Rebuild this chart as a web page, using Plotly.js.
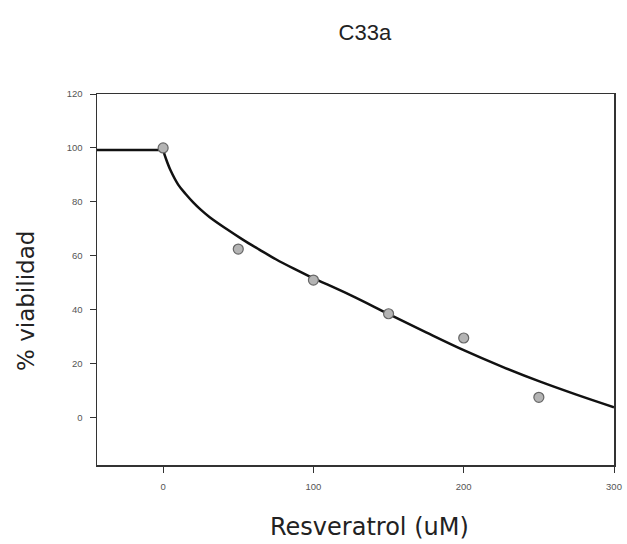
<!DOCTYPE html>
<html>
<head>
<meta charset="utf-8">
<script src="https://cdn.plot.ly/plotly-3.0.1.min.js"></script>
<style>html,body{margin:0;padding:0;background:#fff;}#chart{width:627px;height:544px;}</style>
</head>
<body>
<div id="chart"></div>
<script>
// Observed data points
var doseX = [0, 50, 100, 150, 200, 250];
var viabilityY = [100, 62.5, 51, 38.5, 29.5, 7.5];

// Fitted curve
var plateauX = [-44, 0];
var plateauY = [99.2, 99.2];
var fitX = [0, 2, 5, 10, 15, 20, 25, 31, 42, 53, 64, 75, 87, 98, 125, 150, 175, 200, 225, 250, 275, 300];
var fitY = [99.2, 95.8, 91.6, 86.4, 82.9, 79.8, 77.1, 74.3, 70.0, 66.0, 62.3, 58.7, 55.2, 52.2, 45.3, 38.4, 31.6, 25, 19, 13.5, 8.5, 3.8];

var xTicks = [0, 100, 200, 300];
var yTicks = [0, 20, 40, 60, 80, 100, 120];

var titleText = 'C33a';
var xTitleText = 'Resveratrol (uM)';
var yTitleText = '% viabilidad';

var traces = [
  {x: plateauX, y: plateauY, mode: 'lines', line: {color: '#111', width: 2.5}, hoverinfo: 'skip'},
  {x: fitX, y: fitY, mode: 'lines', line: {color: '#111', width: 2.5, shape: 'spline', smoothing: 1, simplify: false}, hoverinfo: 'skip'},
  {x: doseX, y: viabilityY, mode: 'markers', marker: {size: 10, color: '#b4b4b4', line: {color: '#666', width: 1.2}}}
];

var layout = {
  width: 627, height: 544,
  margin: {l: 97, r: 13, t: 94, b: 79},
  paper_bgcolor: '#fff', plot_bgcolor: '#fff',
  showlegend: false,
  font: {family: 'Liberation Sans, Arial, sans-serif', color: '#222'},
  title: {text: titleText, font: {size: 22, color: '#222'}, x: 0.582, xanchor: 'center', y: 0.94, yanchor: 'middle'},
  xaxis: {
    range: [-44, 300], tickvals: xTicks, ticktext: xTicks.map(String),
    showgrid: false, zeroline: false, showline: true, mirror: true,
    linecolor: '#333', linewidth: 1.5, ticks: 'outside', ticklen: 6, tickcolor: '#333', tickwidth: 1,
    tickfont: {size: 9.5, color: '#555'}, ticklabelstandoff: 6
  },
  yaxis: {
    range: [-17.6, 120], tickvals: yTicks, ticktext: yTicks.map(String),
    showgrid: false, zeroline: false, showline: true, mirror: true,
    linecolor: '#333', linewidth: 1.5, ticks: 'outside', ticklen: 6, tickcolor: '#333', tickwidth: 1,
    tickfont: {size: 9.5, color: '#555'}, ticklabelstandoff: 5
  },
  annotations: [
    {text: xTitleText, xref: 'paper', yref: 'paper', x: (369 - 97) / 517, y: -(527 - 465) / 371,
     xanchor: 'center', yanchor: 'middle', showarrow: false,
     font: {family: 'DejaVu Sans, sans-serif', size: 24, color: '#222'}},
    {text: yTitleText, xref: 'paper', yref: 'paper', x: -(97 - 26) / 517, y: (465 - 301) / 371,
     xanchor: 'center', yanchor: 'middle', showarrow: false, textangle: -90,
     font: {family: 'DejaVu Sans, sans-serif', size: 23, color: '#222'}}
  ]
};

Plotly.newPlot('chart', traces, layout, {displayModeBar: false, staticPlot: true});
</script>
</body>
</html>
